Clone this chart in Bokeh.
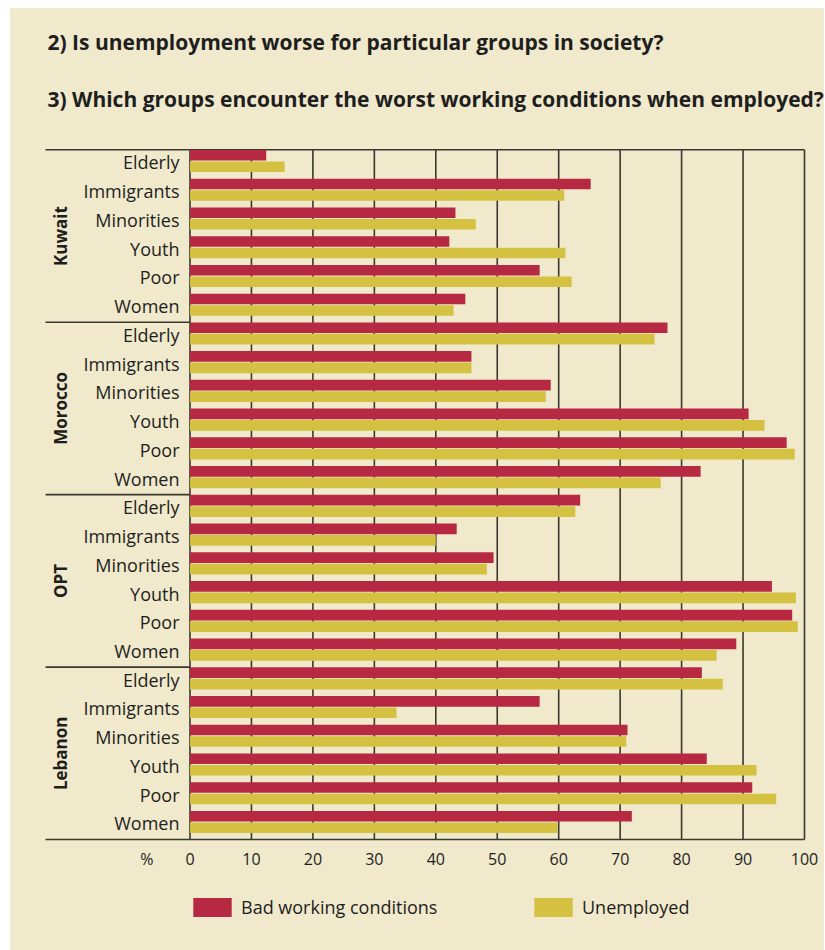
import numpy as np
from bokeh.plotting import figure
from bokeh.layouts import column, row
from bokeh.models import (Range1d, FixedTicker, Legend, LegendItem,
                          ColumnDataSource, Spacer)
from bokeh.core.properties import value
from bokeh.embed import file_html
from bokeh.resources import INLINE

# ---------------- data ----------------
titles = ["2) Is unemployment worse for particular groups in society?",
          "3) Which groups encounter the worst working conditions when employed?"]
groups = ["Kuwait", "Morocco", "OPT", "Lebanon"]
categories = ["Elderly", "Immigrants", "Minorities", "Youth", "Poor", "Women"]
series_names = ["Bad working conditions", "Unemployed"]

bad_kuwait = [12.4, 65.2, 43.2, 42.2, 56.9, 44.8]
unemp_kuwait = [15.4, 60.9, 46.5, 61.1, 62.1, 42.9]
bad_morocco = [77.7, 45.8, 58.7, 90.9, 97.1, 83.1]
unemp_morocco = [75.6, 45.8, 57.9, 93.5, 98.4, 76.6]
bad_opt = [63.5, 43.4, 49.4, 94.7, 98.0, 88.9]
unemp_opt = [62.7, 40.0, 48.3, 98.6, 98.9, 85.7]
bad_lebanon = [83.3, 56.9, 71.2, 84.1, 91.5, 71.9]
unemp_lebanon = [86.7, 33.6, 71.0, 92.2, 95.4, 59.8]

x_ticks = [0, 10, 20, 30, 40, 50, 60, 70, 80, 90, 100]
unit_label = "%"

# ---------------- styling ----------------
BG = "#F0E9CB"
RED = "#B72942"
YEL = "#D4C142"
LINE = "#3a382f"
TXT = "#1e1e1e"
FONT = "Open Sans"

bad = bad_kuwait + bad_morocco + bad_opt + bad_lebanon
unemp = unemp_kuwait + unemp_morocco + unemp_opt + unemp_lebanon
n_cat = len(categories)
n_rows = len(groups) * n_cat
rows = np.arange(n_rows)
labels = categories * len(groups)

W = 814
p = figure(width=W, height=872,
           x_range=Range1d(-29.211, 103.255),
           y_range=Range1d(24.068, -4.9165),
           output_backend="svg", toolbar_location=None,
           y_axis_location=None,
           min_border_left=0, min_border_right=0, min_border_top=0, min_border_bottom=39)
p.background_fill_color = BG
p.border_fill_color = BG
p.outline_line_color = None
p.grid.visible = False

# vertical grid lines
p.segment(x0=x_ticks, y0=[0] * len(x_ticks), x1=x_ticks, y1=[n_rows] * len(x_ticks),
          line_color=LINE, line_width=1.6)

# group separators
bounds = [g * n_cat for g in range(len(groups) + 1)]
x_end = [x_ticks[-1] if b in (0, n_rows) else 0 for b in bounds]
p.segment(x0=[-23.51] * len(bounds), y0=bounds, x1=x_end, y1=bounds,
          line_color=LINE, line_width=1.6)

# bars
src = ColumnDataSource(dict(y_bad=rows + 0.19, y_un=rows + 0.59, bad=bad, unemp=unemp))
p.hbar(y="y_bad", left=0, right="bad", height=0.37, source=src,
       fill_color=RED, line_color=None)
p.hbar(y="y_un", left=0, right="unemp", height=0.37, source=src,
       fill_color=YEL, line_color=None)

# category labels
p.text(x=[-1.71] * n_rows, y=rows + 0.44, text=labels,
       text_font=value(FONT), text_font_size="18px", text_color=TXT,
       text_align="right", text_baseline="middle")

# group labels (rotated)
gcent = [g * n_cat + n_cat / 2 for g in range(len(groups))]
p.text(x=[-21.07] * len(groups), y=gcent, text=groups, angle=np.pi / 2,
       text_font=value(FONT), text_font_size="17px", text_font_style="bold",
       text_color=TXT, text_align="center", text_baseline="middle")

# titles
p.text(x=[-23.19, -23.19], y=[-3.74, -1.76], text=titles,
       text_font=value(FONT), text_font_size="21px", text_font_style="bold",
       text_color=TXT, text_align="left", text_baseline="middle")

# x axis
ax = p.xaxis[0]
ax.ticker = FixedTicker(ticks=[-7] + x_ticks)
ax.major_label_overrides = {-7: unit_label}
ax.axis_line_color = None
ax.major_tick_line_color = None
ax.minor_tick_line_color = None
ax.major_label_standoff = 0
ax.major_label_text_font = FONT
ax.major_label_text_font_size = "16px"
ax.major_label_text_color = TXT

# legend strip (separate small figure whose frame covers it entirely)
leg = figure(width=W, height=70, x_range=Range1d(0, 1), y_range=Range1d(0, 1),
             output_backend="svg", toolbar_location=None,
             x_axis_location=None, y_axis_location=None,
             min_border_left=0, min_border_right=0, min_border_top=0, min_border_bottom=0)
leg.background_fill_color = BG
leg.border_fill_color = BG
leg.outline_line_color = None
leg.grid.visible = False
# swatch renderers (their single bar lies outside the visible range)
lr1 = leg.hbar(y=[-5], left=[0], right=[1], height=1, fill_color=RED, line_color=None)
lr2 = leg.hbar(y=[-5], left=[0], right=[1], height=1, fill_color=YEL, line_color=None)
legend = Legend(items=[LegendItem(label=series_names[0], renderers=[lr1]),
                       LegendItem(label=series_names[1], renderers=[lr2])],
                location=(178, 31), orientation="horizontal",
                glyph_width=48, glyph_height=24, label_standoff=5,
                label_width=288, spacing=0, padding=0, margin=0,
                border_line_color=None, background_fill_alpha=0,
                label_text_font=FONT, label_text_font_size="18px",
                label_text_color=TXT)
leg.add_layout(legend)

layout = column(Spacer(width=824, height=8),
                row(Spacer(width=10, height=942),
                    column(p, leg, spacing=0, styles={"background-color": BG}),
                    spacing=0),
                spacing=0)

open("out.html", "w").write(file_html(layout, INLINE))
